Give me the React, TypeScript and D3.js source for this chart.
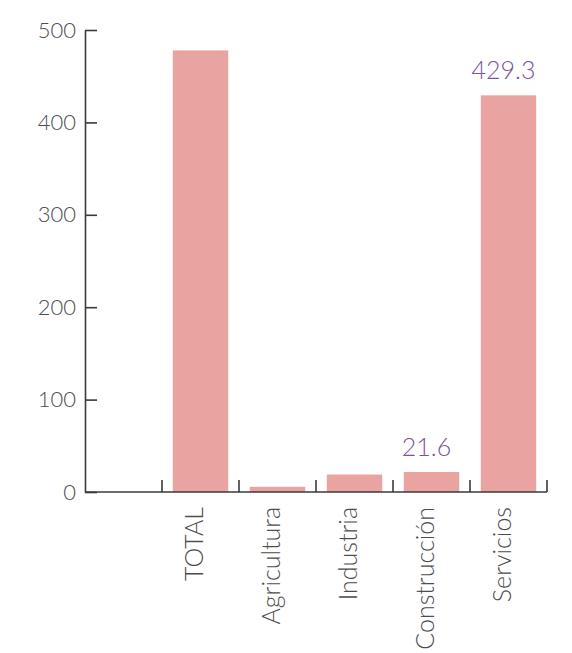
import { useEffect, useRef } from "react";
import * as d3 from "d3";

const categories = ["TOTAL", "Agricultura", "Industria", "Construcción", "Servicios"];
const values = [477.9, 5.6, 18.9, 21.6, 429.3];
// only these bars carry a value label in the source
const labelled = ["Construcción", "Servicios"];
const yTicks = [0, 100, 200, 300, 400, 500];

const App = () => {
  const ref = useRef<SVGSVGElement>(null);

  useEffect(() => {
    const svg = d3.select(ref.current);
    const width = 572,
      height = 653;
    svg.selectAll("*").remove();
    svg.attr("width", width).attr("height", height);

    const axisX = 85;
    const font = "Lato, 'Open Sans', sans-serif";

    const x = d3
      .scaleBand<string>()
      .domain(categories)
      .range([162, 547])
      .paddingInner(0.28)
      .paddingOuter(0.14);

    const y = d3.scaleLinear().domain([0, 500]).range([492, 30]);

    // bars
    svg
      .selectAll(".bar")
      .data(categories)
      .enter()
      .append("rect")
      .attr("x", (d) => x(d) ?? 0)
      .attr("y", (d, i) => y(values[i]))
      .attr("width", x.bandwidth())
      .attr("height", (d, i) => y(0) - y(values[i]))
      .attr("fill", "#e9a3a1");

    // y axis
    const yAxis = svg
      .append("g")
      .attr("transform", `translate(${axisX},0)`)
      .call(
        d3
          .axisLeft(y)
          .tickValues(yTicks)
          .tickSize(-12)
          .tickSizeOuter(0)
          .tickPadding(9)
      );
    yAxis.select(".domain").attr("stroke", "#3a3a3a").attr("stroke-width", 1.6);
    yAxis.selectAll(".tick line").attr("stroke", "#3a3a3a").attr("stroke-width", 1.6);
    yAxis
      .selectAll(".tick text")
      .attr("fill", "#4d4d4d")
      .style("font-family", font)
      .style("font-size", "22px")
      .style("font-weight", 300);

    // x axis: line from y axis to end, ticks at band boundaries pointing up
    const step = x.step();
    const start = x.range()[0];
    const bounds = d3.range(categories.length + 1).map((i) => start + i * step);
    const xg = svg.append("g");
    xg.append("line")
      .attr("x1", axisX)
      .attr("x2", bounds[bounds.length - 1])
      .attr("y1", y(0))
      .attr("y2", y(0))
      .attr("stroke", "#3a3a3a")
      .attr("stroke-width", 1.6);
    xg.selectAll(".xtick")
      .data(bounds)
      .enter()
      .append("line")
      .attr("x1", (d) => d)
      .attr("x2", (d) => d)
      .attr("y1", y(0))
      .attr("y2", y(0) - 12)
      .attr("stroke", "#3a3a3a")
      .attr("stroke-width", 1.6);

    // rotated category labels
    xg.selectAll(".xlabel")
      .data(categories)
      .enter()
      .append("text")
      .attr(
        "transform",
        (d) => `translate(${(x(d) ?? 0) + x.bandwidth() / 2 + 2},${y(0) + 15}) rotate(-90)`
      )
      .attr("text-anchor", "end")
      .attr("fill", "#4d4d4d")
      .style("font-family", font)
      .style("font-size", "25px")
      .style("font-weight", 300)
      .text((d) => d);

    // value labels
    svg
      .selectAll(".val")
      .data(categories.filter((c) => labelled.includes(c)))
      .enter()
      .append("text")
      .attr("x", (d) => (x(d) ?? 0) + x.bandwidth() / 2 - 5)
      .attr("y", (d) => y(values[categories.indexOf(d)]) - 16)
      .attr("text-anchor", "middle")
      .attr("fill", "#7b529c")
      .style("font-family", font)
      .style("font-size", "25px")
      .style("font-weight", 300)
      .text((d) => values[categories.indexOf(d)].toFixed(1));
  }, []);

  return (
    <svg
      ref={ref}
      style={{ position: "absolute", left: 0, top: 0, background: "#fff" }}
    />
  );
};

export default App;
